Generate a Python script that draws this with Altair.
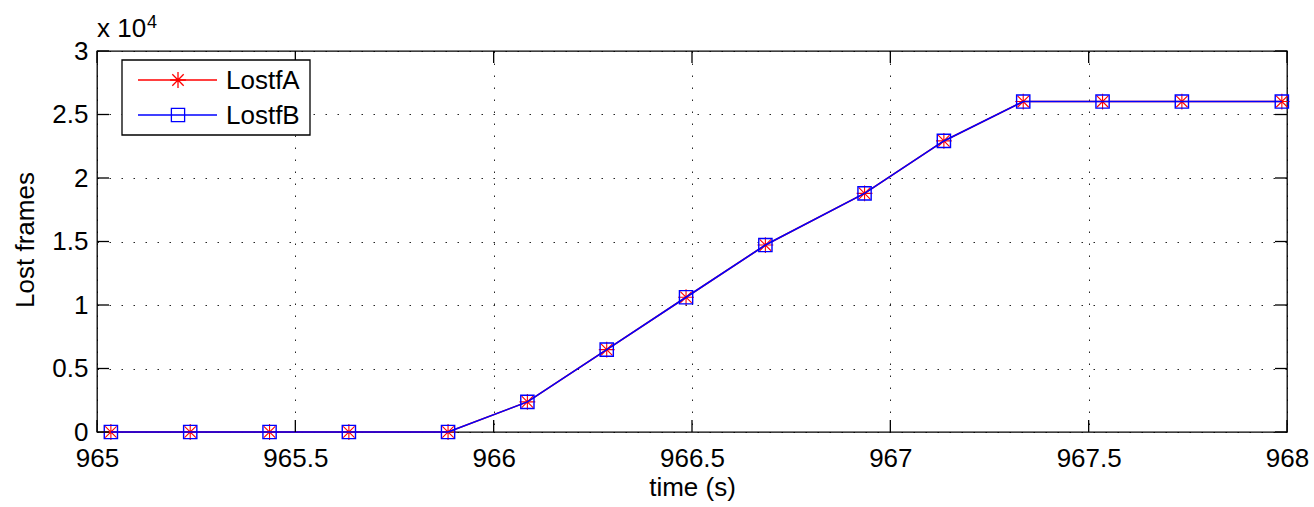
import altair as alt
import pandas as pd

# ---- data ----
time_s = [965.035, 965.235, 965.435, 965.635, 965.885, 966.085, 966.285, 966.485,
          966.685, 966.935, 967.135, 967.335, 967.535, 967.735, 967.987]
lostf_a = [0, 0, 0, 0, 0, 2370, 6490, 10610, 14720, 18790, 22920, 26020, 26020, 26020, 26020]
lostf_b = [0, 0, 0, 0, 0, 2370, 6490, 10610, 14720, 18790, 22920, 26020, 26020, 26020, 26020]
series_names = ["LostfA", "LostfB"]
series_colors = ["#ff0000", "#0000ff"]
x_ticks = [965, 965.5, 966, 966.5, 967, 967.5, 968]
y_ticks = [0, 5000, 10000, 15000, 20000, 25000, 30000]
exponent_base = "x 10"
exponent_power = "4"

# ---- layout ----
W, H = 1190, 381
FONT = "Liberation Sans"
FS = 26
TICK = 12
ASTERISK = "M-1,0L1,0M0,-1L0,1M-0.72,-0.72L0.72,0.72M-0.72,0.72L0.72,-0.72"

df_a = pd.DataFrame({"time": time_s, "lost": lostf_a})
df_b = pd.DataFrame({"time": time_s, "lost": lostf_b})
df_xt = pd.DataFrame({"time": x_ticks})
df_yt = pd.DataFrame({"lost": y_ticks})

x_scale = alt.Scale(domain=[965, 968], nice=False, zero=False)
y_scale = alt.Scale(domain=[0, 30000], nice=False, zero=False)

x_axis = alt.Axis(
    values=x_ticks, format=".1~f", title="time (s)",
    grid=True, gridDash=[1.5, 10.5], gridColor="black", gridWidth=1, gridOpacity=0.85,
    ticks=False, tickSize=0, domain=False,
    labelFont=FONT, labelFontSize=FS, labelColor="black", labelPadding=13,
    labelFlush=False, labelOverlap=False, labelBound=False,
    titleFont=FONT, titleFontSize=FS, titleFontWeight="normal", titleColor="black",
    titleY=63, titleBaseline="alphabetic",
)
y_axis = alt.Axis(
    values=y_ticks, labelExpr="format(datum.value / 10000, '~g')", title="Lost frames",
    grid=True, gridDash=[1.5, 10.5], gridColor="black", gridWidth=1, gridOpacity=0.85,
    ticks=False, tickSize=0, domain=False,
    labelFont=FONT, labelFontSize=FS, labelColor="black", labelPadding=9,
    labelFlush=False, labelOverlap=False, labelBound=False,
    titleFont=FONT, titleFontSize=FS, titleFontWeight="normal", titleColor="black",
    titleX=-64, titleY=H / 2 - 2, titleAngle=270, titleBaseline="alphabetic", titleAlign="center",
)

X = alt.X("time:Q", scale=x_scale, axis=x_axis)
Y = alt.Y("lost:Q", scale=y_scale, axis=y_axis)

line_a = alt.Chart(df_a).mark_line(color=series_colors[0], strokeWidth=1.6).encode(x=X, y=Y)
pts_a = alt.Chart(df_a).mark_point(shape=ASTERISK, size=250, color=series_colors[0],
                                   filled=False, strokeWidth=1.1, opacity=1).encode(x=X, y=Y)
line_b = alt.Chart(df_b).mark_line(color=series_colors[1], strokeWidth=1.6).encode(x=X, y=Y)
pts_b = alt.Chart(df_b).mark_point(shape="square", size=175, color=series_colors[1],
                                   filled=False, strokeWidth=1.4, opacity=1).encode(x=X, y=Y)

# inward ticks on all four sides
tick_style = dict(color="black", strokeWidth=1.3)
ticks_bottom = alt.Chart(df_xt).mark_rule(**tick_style).encode(
    x=X, y=alt.value(H - TICK), y2=alt.value(H))
ticks_top = alt.Chart(df_xt).mark_rule(**tick_style).encode(
    x=X, y=alt.value(0), y2=alt.value(TICK))
ticks_left = alt.Chart(df_yt).mark_rule(**tick_style).encode(
    y=Y, x=alt.value(0), x2=alt.value(TICK))
ticks_right = alt.Chart(df_yt).mark_rule(**tick_style).encode(
    y=Y, x=alt.value(W - TICK), x2=alt.value(W))

one = alt.Data(values=[{"k": 0}])

# exponent label
exp_base = alt.Chart(one).mark_text(text=exponent_base, font=FONT, fontSize=FS, align="left",
                                     baseline="alphabetic", color="black").encode(
    x=alt.value(0), y=alt.value(-14))
exp_pow = alt.Chart(one).mark_text(text=exponent_power, font=FONT, fontSize=18, align="left",
                                    baseline="alphabetic", color="black").encode(
    x=alt.value(50), y=alt.value(-23))

# legend
LX1, LX2, LY1, LY2 = 25, 213, 9, 84
legend_box = alt.Chart(one).mark_rect(fill="white", stroke="black", strokeWidth=1.3).encode(
    x=alt.value(LX1), x2=alt.value(LX2), y=alt.value(LY1), y2=alt.value(LY2))
legend_layers = [legend_box]
row_y = [29, 64]
shapes = [ASTERISK, "square"]
sizes = [250, 175]
for i, name in enumerate(series_names):
    ld = alt.Data(values=[{"label": name}])
    legend_layers.append(alt.Chart(ld).mark_rule(color=series_colors[i], strokeWidth=1.6).encode(
        x=alt.value(41), x2=alt.value(120), y=alt.value(row_y[i])))
    legend_layers.append(alt.Chart(ld).mark_point(shape=shapes[i], size=sizes[i], color=series_colors[i],
                                                  filled=False, strokeWidth=1.3, opacity=1).encode(
        x=alt.value(81), y=alt.value(row_y[i])))
    legend_layers.append(alt.Chart(ld).mark_text(font=FONT, fontSize=FS, align="left", baseline="middle",
                                                 color="black").encode(
        x=alt.value(129), y=alt.value(row_y[i] + 1), text="label:N"))

chart = alt.layer(
    line_a, pts_a, line_b, pts_b,
    ticks_bottom, ticks_top, ticks_left, ticks_right,
    exp_base, exp_pow, *legend_layers,
).properties(
    width=W, height=H,
    autosize=alt.AutoSizeParams(type="none"),
    padding={"left": 97, "top": 51, "right": 1314 - 97 - W, "bottom": 507 - 51 - H},
    background="white",
).configure_view(stroke="black", strokeWidth=1.3)

chart.save("out.html", embed_options={"renderer": "svg", "actions": False})
